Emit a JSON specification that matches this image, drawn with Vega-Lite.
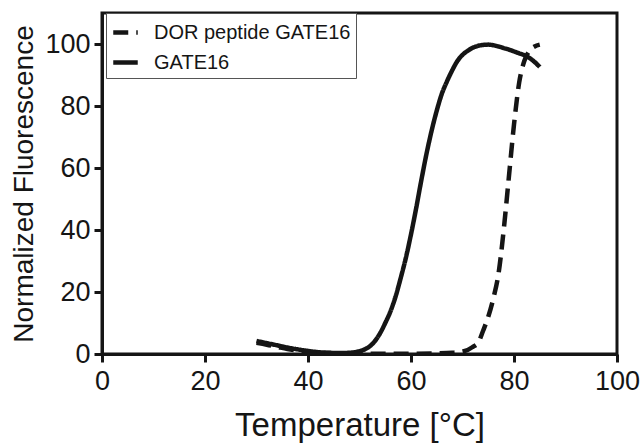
{
  "$schema": "https://vega.github.io/schema/vega-lite/v6.json",
  "width": 515,
  "height": 341,
  "autosize": {"type": "none"},
  "padding": {"left": 102, "top": 13, "right": 26, "bottom": 91},
  "background": "white",
  "config": {
    "font": "Liberation Sans",
    "view": {"stroke": "#151515", "strokeWidth": 3},
    "axis": {"grid": false, "domainColor": "#151515", "domainWidth": 3, "tickColor": "#151515", "tickWidth": 3, "tickSize": 8, "labelColor": "#151515", "titleColor": "#151515", "labelFont": "Liberation Sans", "titleFont": "Liberation Sans", "titleFontWeight": "normal"}
  },
  "data": {
    "values": [
      {"series": "GATE16", "t": 30, "f": 4.2},
      {"series": "GATE16", "t": 32, "f": 3.5},
      {"series": "GATE16", "t": 34, "f": 2.8},
      {"series": "GATE16", "t": 36, "f": 2.1},
      {"series": "GATE16", "t": 38, "f": 1.5},
      {"series": "GATE16", "t": 40, "f": 1.0},
      {"series": "GATE16", "t": 42, "f": 0.6},
      {"series": "GATE16", "t": 44, "f": 0.4},
      {"series": "GATE16", "t": 46, "f": 0.3},
      {"series": "GATE16", "t": 48, "f": 0.4},
      {"series": "GATE16", "t": 50, "f": 0.9},
      {"series": "GATE16", "t": 51, "f": 1.5},
      {"series": "GATE16", "t": 52, "f": 2.5},
      {"series": "GATE16", "t": 53, "f": 4.2},
      {"series": "GATE16", "t": 54, "f": 6.7},
      {"series": "GATE16", "t": 55, "f": 10},
      {"series": "GATE16", "t": 56, "f": 13.7},
      {"series": "GATE16", "t": 57, "f": 18.5},
      {"series": "GATE16", "t": 58, "f": 24.5},
      {"series": "GATE16", "t": 59, "f": 31},
      {"series": "GATE16", "t": 60, "f": 38.6},
      {"series": "GATE16", "t": 61, "f": 47},
      {"series": "GATE16", "t": 62, "f": 56},
      {"series": "GATE16", "t": 63, "f": 64.5},
      {"series": "GATE16", "t": 64, "f": 72},
      {"series": "GATE16", "t": 65, "f": 78.5},
      {"series": "GATE16", "t": 66, "f": 84},
      {"series": "GATE16", "t": 67, "f": 88},
      {"series": "GATE16", "t": 68, "f": 91.5},
      {"series": "GATE16", "t": 69, "f": 94.5},
      {"series": "GATE16", "t": 70, "f": 96.5},
      {"series": "GATE16", "t": 71, "f": 97.8},
      {"series": "GATE16", "t": 72, "f": 98.8},
      {"series": "GATE16", "t": 73, "f": 99.4},
      {"series": "GATE16", "t": 74, "f": 99.7},
      {"series": "GATE16", "t": 75, "f": 99.8},
      {"series": "GATE16", "t": 76, "f": 99.6},
      {"series": "GATE16", "t": 77, "f": 99.2},
      {"series": "GATE16", "t": 78, "f": 98.7},
      {"series": "GATE16", "t": 79, "f": 98.2},
      {"series": "GATE16", "t": 80, "f": 97.6},
      {"series": "GATE16", "t": 81, "f": 97},
      {"series": "GATE16", "t": 82, "f": 96.4},
      {"series": "GATE16", "t": 83, "f": 95.5},
      {"series": "GATE16", "t": 84, "f": 94.2},
      {"series": "GATE16", "t": 85, "f": 92.6},
      {"series": "DOR peptide GATE16", "t": 30, "f": 3.6},
      {"series": "DOR peptide GATE16", "t": 32, "f": 3.0},
      {"series": "DOR peptide GATE16", "t": 34, "f": 2.3},
      {"series": "DOR peptide GATE16", "t": 36, "f": 1.6},
      {"series": "DOR peptide GATE16", "t": 38, "f": 1.1},
      {"series": "DOR peptide GATE16", "t": 40, "f": 0.7},
      {"series": "DOR peptide GATE16", "t": 42, "f": 0.4},
      {"series": "DOR peptide GATE16", "t": 44, "f": 0.3},
      {"series": "DOR peptide GATE16", "t": 46, "f": 0.2},
      {"series": "DOR peptide GATE16", "t": 50, "f": 0.1},
      {"series": "DOR peptide GATE16", "t": 55, "f": 0.1},
      {"series": "DOR peptide GATE16", "t": 60, "f": 0.1},
      {"series": "DOR peptide GATE16", "t": 65, "f": 0.2},
      {"series": "DOR peptide GATE16", "t": 68, "f": 0.4},
      {"series": "DOR peptide GATE16", "t": 70, "f": 0.8},
      {"series": "DOR peptide GATE16", "t": 71, "f": 1.3},
      {"series": "DOR peptide GATE16", "t": 72, "f": 2.3},
      {"series": "DOR peptide GATE16", "t": 73, "f": 3.5},
      {"series": "DOR peptide GATE16", "t": 74, "f": 7.5},
      {"series": "DOR peptide GATE16", "t": 75, "f": 12},
      {"series": "DOR peptide GATE16", "t": 76, "f": 18},
      {"series": "DOR peptide GATE16", "t": 77, "f": 26},
      {"series": "DOR peptide GATE16", "t": 78, "f": 40},
      {"series": "DOR peptide GATE16", "t": 79, "f": 57},
      {"series": "DOR peptide GATE16", "t": 80, "f": 74},
      {"series": "DOR peptide GATE16", "t": 81, "f": 87.5},
      {"series": "DOR peptide GATE16", "t": 82, "f": 94.5},
      {"series": "DOR peptide GATE16", "t": 83, "f": 97.8},
      {"series": "DOR peptide GATE16", "t": 84, "f": 99.2},
      {"series": "DOR peptide GATE16", "t": 85, "f": 99.8}
    ]
  },
  "mark": {"type": "line", "interpolate": "monotone", "strokeWidth": 4.5, "color": "#151515", "clip": true},
  "encoding": {
    "x": {
      "field": "t", "type": "quantitative",
      "scale": {"domain": [0, 100], "nice": false},
      "axis": {"values": [0, 20, 40, 60, 80, 100], "labelFontSize": 27, "labelPadding": 6, "title": "Temperature [°C]", "titleFontSize": 33, "titlePadding": 15, "labelFlush": false}
    },
    "y": {
      "field": "f", "type": "quantitative",
      "scale": {"domain": [0, 110], "nice": false},
      "axis": {"values": [0, 20, 40, 60, 80, 100], "labelFontSize": 27, "labelPadding": 4, "title": "Normalized Fluorescence", "titleFontSize": 28, "titlePadding": 6, "labelFlush": false}
    },
    "strokeDash": {
      "field": "series", "type": "nominal",
      "scale": {"domain": ["DOR peptide GATE16", "GATE16"], "range": [[15, 8], [1, 0]]},
      "legend": {
        "title": null,
        "orient": "none",
        "legendX": 4,
        "legendY": 0,
        "padding": 5,
        "fillColor": "white",
        "strokeColor": "#555555",
        "symbolType": "stroke",
        "symbolSize": 600,
        "symbolStrokeWidth": 4.5,
        "symbolStrokeColor": "#151515",
        "labelFontSize": 20,
        "labelLimit": 0,
        "labelColor": "#151515",
        "labelOffset": 14,
        "rowPadding": 5
      }
    }
  }
}
